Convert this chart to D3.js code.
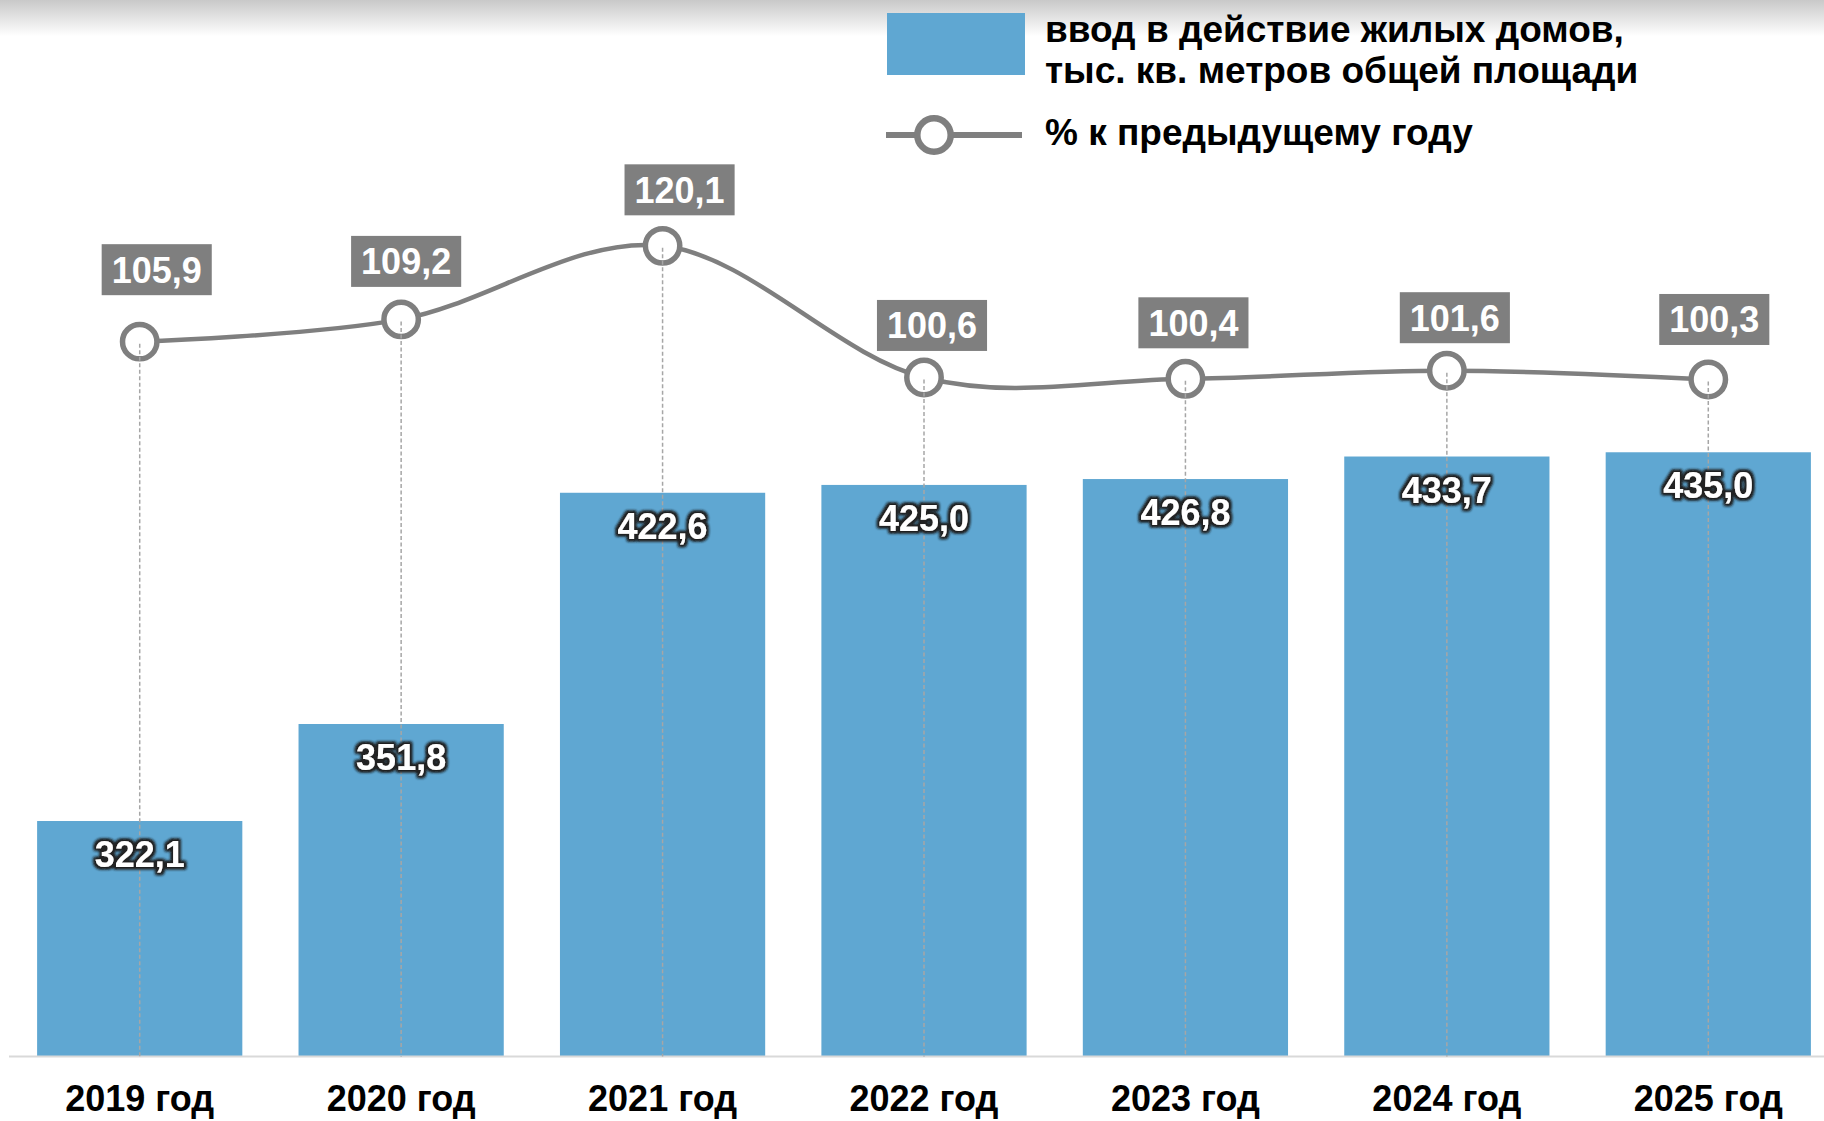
<!DOCTYPE html>
<html><head><meta charset="utf-8">
<script src="https://cdn.jsdelivr.net/npm/d3@7"></script>
<style>
html,body{margin:0;padding:0;background:#fff;overflow:hidden;}
svg{display:block;font-family:"Liberation Sans",Arial,sans-serif;}
</style></head>
<body>
<svg id="chart" width="1824" height="1121"></svg>
<script>
const categories = ["2019 год","2020 год","2021 год","2022 год","2023 год","2024 год","2025 год"];
const areaValues = [322.1, 351.8, 422.6, 425.0, 426.8, 433.7, 435.0];
const pctValues = [105.9, 109.2, 120.1, 100.6, 100.4, 101.6, 100.3];
const legendBarLines = ["ввод в действие жилых домов,", "тыс. кв. метров общей площади"];
const legendLineLabel = "% к предыдущему году";
// layout nudges for the percentage callouts (dx, dy from the marker)
const pctLabelNudge = [[17,-72],[5,-58],[17,-56],[8,-52],[8,-56],[8,-53],[6,-60]];

const W = 1824, H = 1121;
const baseY = 1056.5, topY = 44;
const svg = d3.select("#chart");
const fmt = v => d3.format(".1f")(v).replace(".", ",");

const defs = svg.append("defs");
const grad = defs.append("linearGradient").attr("id","topfade").attr("x1",0).attr("x2",0).attr("y1",0).attr("y2",1);
grad.append("stop").attr("offset","0%").attr("stop-color","#c9c9c9");
grad.append("stop").attr("offset","100%").attr("stop-color","#ffffff");
const f = defs.append("filter").attr("id","glow").attr("x","-20%").attr("y","-40%").attr("width","140%").attr("height","180%");
f.append("feMorphology").attr("in","SourceAlpha").attr("operator","dilate").attr("radius",2.2).attr("result","d");
f.append("feGaussianBlur").attr("in","d").attr("stdDeviation",1.8).attr("result","b");
f.append("feFlood").attr("flood-color","#222222").attr("result","c");
f.append("feComposite").attr("in","c").attr("in2","b").attr("operator","in").attr("result","s");
const fm = f.append("feMerge");
fm.append("feMergeNode").attr("in","s");
fm.append("feMergeNode").attr("in","s");
fm.append("feMergeNode").attr("in","SourceGraphic");

svg.append("rect").attr("x",0).attr("y",0).attr("width",W).attr("height",36).attr("fill","url(#topfade)");

const x = d3.scaleBand().domain(categories).range([9, 1839]).paddingInner(0.215).paddingOuter(0.1075);
const y = d3.scaleLinear().domain([250, 560]).range([baseY, topY]);
const y2 = d3.scaleLinear().domain([0, 150]).range([baseY, topY]);
const cx = c => x(c) + x.bandwidth()/2;

// bars
svg.append("g").selectAll("rect").data(categories).join("rect")
  .attr("x", c => x(c)).attr("width", x.bandwidth())
  .attr("y", (c,i) => y(areaValues[i])).attr("height", (c,i) => baseY - y(areaValues[i]))
  .attr("fill", "#5fa7d2");

// axis line
svg.append("line").attr("x1",9).attr("x2",W).attr("y1",baseY).attr("y2",baseY)
  .attr("stroke","#d9d9d9").attr("stroke-width",2);

// x labels
svg.append("g").selectAll("text").data(categories).join("text")
  .attr("x", c => cx(c)).attr("y", 1111).attr("text-anchor","middle")
  .attr("font-size", 36).attr("font-weight","bold").attr("fill","#000").text(c => c);

// line
const pts = categories.map((c,i) => [cx(c), y2(pctValues[i])]);
svg.append("path").attr("d", d3.line().curve(d3.curveCatmullRom.alpha(0))(pts))
  .attr("fill","none").attr("stroke","#7f7f7f").attr("stroke-width",4.5);

svg.append("g").selectAll("circle").data(pts).join("circle")
  .attr("cx", d => d[0]).attr("cy", d => d[1]).attr("r", 17.2)
  .attr("fill","#fff").attr("stroke","#7f7f7f").attr("stroke-width",5.5);

// dashed drop lines
svg.append("g").selectAll("line").data(pts).join("line")
  .attr("x1", d => d[0]).attr("x2", d => d[0]).attr("y1", d => d[1] + 2).attr("y2", baseY)
  .attr("stroke","#a6a6a6").attr("stroke-width",1.5).attr("stroke-dasharray","4,2.5");

// bar value labels
svg.append("g").selectAll("text").data(categories).join("text")
  .attr("x", c => cx(c)).attr("y", (c,i) => y(areaValues[i]) + 46)
  .attr("text-anchor","middle").attr("font-size",36).attr("font-weight","bold")
  .attr("fill","#fff").attr("filter","url(#glow)")
  .text((c,i) => fmt(areaValues[i]));

// pct callouts
const lg = svg.append("g");
pts.forEach((p,i) => {
  const bx = p[0] + pctLabelNudge[i][0], by = p[1] + pctLabelNudge[i][1];
  const g = lg.append("g");
  const t = g.append("text").attr("x", bx).attr("y", by + 13).attr("text-anchor","middle")
    .attr("font-size",36).attr("font-weight","bold").attr("fill","#fff").text(fmt(pctValues[i]));
  const bb = t.node().getBBox();
  g.insert("rect","text").attr("x", bx - bb.width/2 - 10).attr("y", by - 25.5)
    .attr("width", bb.width + 20).attr("height", 51).attr("fill","#7f7f7f");
});

// legend
const leg = svg.append("g");
leg.append("rect").attr("x",887).attr("y",13).attr("width",138).attr("height",62).attr("fill","#5fa7d2");
leg.selectAll("text.l1").data(legendBarLines).join("text")
  .attr("x",1045).attr("y",(d,i) => 42 + i*40.5).attr("font-size",37).attr("font-weight","bold")
  .attr("fill","#000").text(d => d);
leg.append("line").attr("x1",886).attr("x2",1022).attr("y1",135).attr("y2",135)
  .attr("stroke","#7f7f7f").attr("stroke-width",6);
leg.append("circle").attr("cx",934).attr("cy",135).attr("r",16.7)
  .attr("fill","#fff").attr("stroke","#7f7f7f").attr("stroke-width",6.5);
leg.append("text").attr("x",1045).attr("y",145).attr("font-size",37).attr("font-weight","bold")
  .attr("fill","#000").text(legendLineLabel);
</script>
</body></html>
